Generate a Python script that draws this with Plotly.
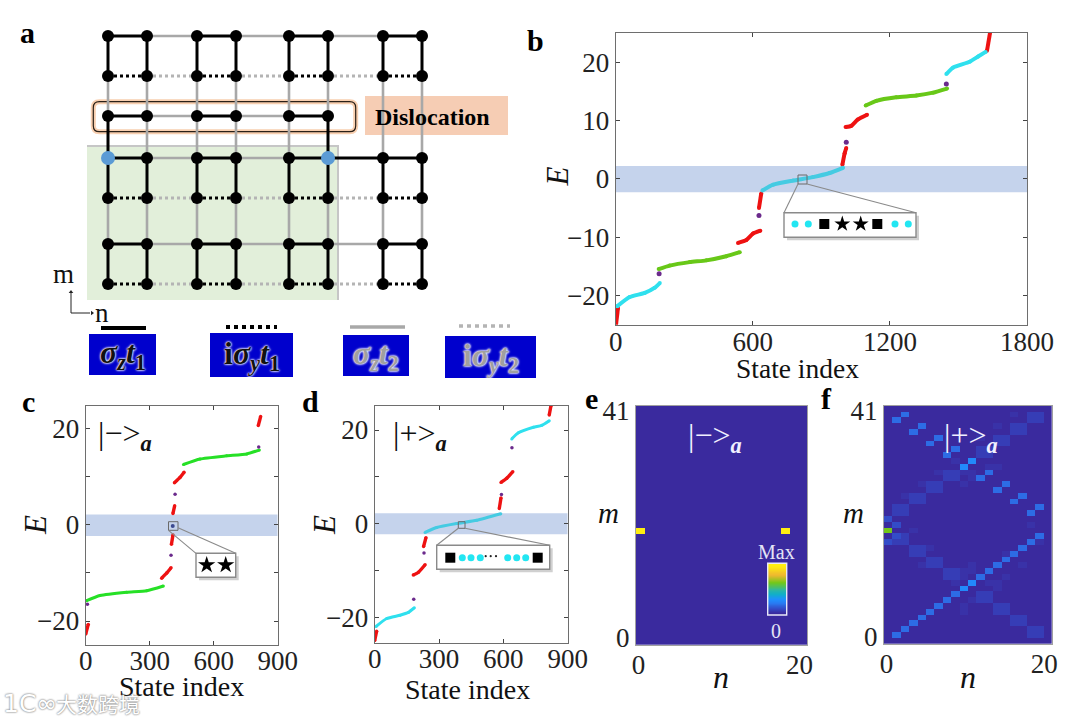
import plotly.graph_objects as go

W, H = 1080, 722
SERIF = "Liberation Serif"

# ---------- panel a lattice (index into columns / rows) ----------
lat_x = [108, 147, 197, 236, 289, 328, 383, 422]
lat_y = [36, 76, 116, 158, 198, 244, 284]
black_solid = [(0,0,1,0),(2,0,3,0),(4,0,5,0),(6,0,7,0),
               (0,2,1,2),(2,2,3,2),(4,2,5,2),
               (0,3,1,3),(2,3,3,3),(4,3,5,3),(5,3,6,3),(6,3,7,3),
               (0,5,1,5),(2,5,3,5),(4,5,5,5),(6,5,7,5),
               (0,0,0,1),(1,0,1,1),(2,0,2,1),(3,0,3,1),(4,0,4,1),(5,0,5,1),(6,0,6,1),(7,0,7,1),
               (0,2,0,3),(5,2,5,3),
               (0,3,0,4),(1,3,1,4),(2,3,2,4),(3,3,3,4),(4,3,4,4),(5,3,5,4),(6,3,6,4),(7,3,7,4),
               (0,5,0,6),(1,5,1,6),(2,5,2,6),(3,5,3,6),(4,5,4,6),(5,5,5,6),(6,5,6,6),(7,5,7,6)]
black_dotted = [(0,r,1,r) for r in (1,4,6)] + [(2,r,3,r) for r in (1,4,6)] + \
               [(4,r,5,r) for r in (1,4,6)] + [(6,r,7,r) for r in (1,4,6)]
gray_solid = [(1,0,2,0),(3,0,4,0),(5,0,6,0),(1,2,2,2),(3,2,4,2),(1,3,2,3),(3,3,4,3),
              (1,5,2,5),(3,5,4,5),(5,5,6,5),
              (0,1,0,2),(1,1,1,2),(2,1,2,2),(3,1,3,2),(4,1,4,2),(5,1,5,2),
              (6,1,6,3),(7,1,7,3),
              (1,2,1,3),(2,2,2,3),(3,2,3,3),(4,2,4,3),
              (0,4,0,5),(1,4,1,5),(2,4,2,5),(3,4,3,5),(4,4,4,5),(5,4,5,5),(6,4,6,5),(7,4,7,5)]
gray_dotted = [(1,r,2,r) for r in (1,4,6)] + [(3,r,4,r) for r in (1,4,6)] + [(5,r,6,r) for r in (1,4,6)]
node_rows = {0: [0,1,2,3,4,5,6,7], 1: [0,1,2,3,4,5,6,7], 2: [0,1,2,3,4,5],
             3: [1,2,3,4,6,7], 4: [0,1,2,3,4,5,6,7], 5: [0,1,2,3,4,5,6,7], 6: [0,1,2,3,4,5,6,7]}
blue_nodes = [(0,3),(5,3)]

key_bar_x = [[101,146],[226,277],[350,405],[459,510]]
key_bar_y = [328,327,327,326]
key_box_x = [[89,156],[210,293],[343,409],[445,536]]
key_box_y = [[334,375],[333,377],[335,376],[336,378]]
key_text = ["<b><i>σ<sub>z</sub>t</i><sub>1</sub></b>", "<b>i<i>σ<sub>y</sub>t</i><sub>1</sub></b>",
            "<b><i>σ<sub>z</sub>t</i><sub>2</sub></b>", "<b>i<i>σ<sub>y</sub>t</i><sub>2</sub></b>"]

# ---------- panel b ----------
b_red_x = [0,10,None,535,572,601,633,None,627,637,None,992,1002,1009,None,1006,1031,1060,1100,None,1625,1640]
b_red_e = [-25.5,-22.2,None,-11,-10.5,-9.4,-8.9,None,-5,-2.5,None,2.4,4.4,5.3,None,8.9,9.1,10.2,11,None,22,25.5]
b_cyan_x = [6,61,127,171,193,None,1447,1476,1549,1586,1619]
b_cyan_e = [-21.9,-20.3,-19.6,-18.7,-17.9,None,18,19.1,20.1,21,21.8]
b_mid_x = [642,689,776,863,936,995]
b_mid_e = [-2,-1,-0.3,0.3,1,1.9]
b_green_x = [188,236,324,397,484,543,None,1094,1141,1228,1316,1389,1450]
b_green_e = [-15.5,-14.9,-14.3,-14,-13.3,-12.6,None,12.6,13.4,14,14.3,14.8,15.5]
b_purple_x = [190,627,1009,1447]
b_purple_e = [-16.3,-6.3,6.3,16.3]

# ---------- panel c ----------
c_red_x = [0,12,None,356,380,400,None,402,409,None,409,417,None,416,442,461,None,809,820]
c_red_e = [-22.7,-20.7,None,-11.1,-10,-8.9,None,-4,-2.1,None,2.4,4,None,8.8,9.9,11,None,20.7,22.6]
c_green_x = [2,67,192,286,364,None,458,536,661,755,814]
c_green_e = [-15.8,-14.7,-14,-13.7,-12.7,None,12.6,13.75,14.4,14.8,15.6]
c_purple_x = [8,400,419,811]
c_purple_e = [-16.5,-6.3,6.4,16.25]
c_core_x = [408]
c_core_e = [-0.2]

# ---------- panel d ----------
d_red_x = [0,9,None,180,204,235,None,228,239,None,581,589,None,589,616,644,None,814,822]
d_red_e = [-25,-23,None,-11,-10.4,-8.8,None,-4.9,-3,None,3.2,5.5,None,8.8,9.7,11.1,None,23.2,25.2]
d_cyan_x = [6,56,118,157,185,None,639,670,740,779,814]
d_cyan_e = [-22,-20.3,-19.6,-19,-18,None,18.1,19.4,20.6,21,22]
d_mid_x = [235,289,382,476,588]
d_mid_e = [-1.9,-0.85,0,0.7,2.1]
d_purple_x = [182,230,591,640]
d_purple_e = [-16.2,-6.3,6.2,16.2]

band_e = [-2.3, 2.2]
index_ticks_b = [0,600,1200,1800]
index_ticks_cd = [0,300,600,900]
energy_ticks_b = [-20,-10,0,10,20]
energy_labels_b = ["\u221220","\u221210","0","10","20"]
energy_ticks_cd = [-20,-10,0,10,20]
energy_labels_cd = ["\u221220","","0","","20"]

# ---------- insets (drawn in page pixels) ----------
inset_b_box = [784,916,212.7,237.3]
inset_b_zoom = [798,807,175,184]
inset_b_circ_x = [795,808.3,895,908.3]
inset_b_sq_x = [824.3,877.3]
inset_b_star_x = [842.3,860.7]
inset_b_row = 224

inset_c_box = [196,235.7,553.3,577.3]
inset_c_zoom = [168.5,178,521.7,530.3]
inset_c_star_x = [206.7,225.7]
inset_c_row = 565

inset_d_box = [436.7,549.7,545.3,569.3]
inset_d_zoom = [458.3,465,521.7,528.3]
inset_d_sq_x = [450.3,537.7]
inset_d_circ_x = [462.3,471,480.3,507.7,516.7,525.7]
inset_d_dot_x = [485.7,490.7,496]
inset_d_row = 557.7

# ---------- panels e, f ----------
n_cols, n_rows = 20, 41
e_peak_cells = [(0,19),(17,19)]
f_bright_cells = [(i,i) for i in range(1,19)] + [(1,38),(2,39),(3,36),(4,37),(5,34),(6,35),(7,32),(8,33),
                  (11,28),(12,29),(13,26),(14,27),(15,24),(16,25),(17,22),(18,23)]
f_peak_cells = [(9,9),(10,10),(9,30),(10,31)]
f_green_cell = [(0,19)]
f_edge_cells = [(0,21),(1,20),(0,17),(1,18)]
f_block_origins = [(17,38),(15,36),(13,34),(11,32),(7,28),(5,26),(3,24),(1,22),
                   (1,17),(3,15),(5,13),(7,11),(11,7),(13,5),(15,3),(17,1)]
f_faint_cells = [(9,12),(10,12),(9,11),(10,13),(8,10),(12,10),(13,10),(9,6),(9,5),(10,7),(13,9),
                 (9,29),(10,29),(8,31),(12,30),(13,30),(9,27),(10,28),(4,13),(5,16),(3,19),(14,15),(17,20),
                 (2,25),(4,27),(6,29),(13,37),(15,39),(11,35),(18,17),(16,13),(14,11)]
cbar_levels = [[1.0],[0.9],[0.8],[0.7],[0.6],[0.5],[0.4],[0.3],[0.2],[0.1],[0.0]][::-1]

value_scale = [[0,"#3a2a9e"],[0.08,"#3448c4"],[0.2,"#2a78f0"],[0.3,"#1e90ff"],[0.4,"#10b0c8"],
               [0.5,"#30b8a0"],[0.65,"#72c81a"],[0.8,"#f0b830"],[1,"#ffee10"]]


def blank_grid():
    return [[0.0 for _ in range(n_cols)] for _ in range(n_rows)]

e_z = blank_grid()
for c, r in e_peak_cells:
    e_z[r][c] = 1.0

f_z = blank_grid()
for c, r in f_faint_cells:
    f_z[r][c] = 0.02
for c, r in f_block_origins:
    for dc in (0, 1):
        for dr in (0, 1):
            f_z[r+dr][c+dc] = 0.05
for c, r in f_bright_cells:
    f_z[r][c] = 0.17
for c, r in f_edge_cells:
    f_z[r][c] = 0.09
for c, r in f_peak_cells:
    f_z[r][c] = 0.27
for c, r in f_green_cell:
    f_z[r][c] = 0.65


def px_dom_x(a, b):
    return [a / W, b / W]


def px_dom_y(top, bot):
    return [1 - bot / H, 1 - top / H]


def bonds(lst):
    xs, ys = [], []
    for c0, r0, c1, r1 in lst:
        xs += [lat_x[c0], lat_x[c1], None]
        ys += [lat_y[r0], lat_y[r1], None]
    return xs, ys

fig = go.Figure()
OV = dict(xaxis="x7", yaxis="y7", hoverinfo="skip", showlegend=False)


def add_curve(xa, ya, xs, ys, color, width=4):
    fig.add_trace(go.Scatter(x=xs, y=ys, xaxis=xa, yaxis=ya, mode="lines+markers", showlegend=False,
                             line=dict(color=color, width=width, shape="spline", smoothing=0.5),
                             marker=dict(color=color, size=width)))


def add_dots(xa, ya, xs, ys, color="#6b2a8c", size=5):
    fig.add_trace(go.Scatter(x=xs, y=ys, xaxis=xa, yaxis=ya, mode="markers", showlegend=False,
                             marker=dict(color=color, size=size)))

RED, CYAN, MID, GREEN_B, GREEN_C = "#ee1212", "#2fe0ee", "#45cbe2", "#68c818", "#26e026"
add_curve("x","y",b_red_x,b_red_e,RED)
add_curve("x","y",b_cyan_x,b_cyan_e,CYAN)
add_curve("x","y",b_mid_x,b_mid_e,MID)
add_curve("x","y",b_green_x,b_green_e,GREEN_B)
add_dots("x","y",b_purple_x,b_purple_e)

add_curve("x2","y2",c_red_x,c_red_e,RED,3.4)
add_curve("x2","y2",c_green_x,c_green_e,GREEN_C,3.0)
add_dots("x2","y2",c_purple_x,c_purple_e,size=3.5)
add_dots("x2","y2",c_core_x,c_core_e,color="#3c4a90",size=4)

add_curve("x3","y3",d_red_x,d_red_e,RED,3.4)
add_curve("x3","y3",d_cyan_x,d_cyan_e,CYAN,3.0)
add_curve("x3","y3",d_mid_x,d_mid_e,MID,3.0)
add_dots("x3","y3",d_purple_x,d_purple_e,size=3.5)

for xa, ya, z in (("x4","y4",e_z),("x5","y5",f_z)):
    fig.add_trace(go.Heatmap(z=z, x0=0.5, dx=1, y0=0.5, dy=1, xaxis=xa, yaxis=ya, showscale=False,
                             colorscale=value_scale, zmin=0, zmax=1, zsmooth=False))
fig.add_trace(go.Heatmap(z=cbar_levels, xaxis="x6", yaxis="y6", showscale=False,
                         colorscale=value_scale, zmin=0, zmax=1, zsmooth="best"))

# panel a lattice
for lst, color, dash, width in ((gray_solid,"#a8a8a8","solid",2.6),(gray_dotted,"#b4b4b4","3px,3px",2.8),
                                (black_solid,"#000000","solid",3),(black_dotted,"#000000","3px,3px",3)):
    xs, ys = bonds(lst)
    fig.add_trace(go.Scatter(x=xs, y=ys, mode="lines", line=dict(color=color, dash=dash, width=width), **OV))
node_x, node_y = [], []
for r, cols in node_rows.items():
    for c in cols:
        if (c, r) not in blue_nodes:
            node_x.append(lat_x[c]); node_y.append(lat_y[r])
fig.add_trace(go.Scatter(x=node_x, y=node_y, mode="markers", marker=dict(color="#000", size=12), **OV))
fig.add_trace(go.Scatter(x=[lat_x[c] for c, r in blue_nodes], y=[lat_y[r] for c, r in blue_nodes], mode="markers",
                         marker=dict(color="#5b9bd5", size=14), **OV))

# m/n arrows
fig.add_trace(go.Scatter(x=[71,71,90], y=[293,313,313], mode="lines", line=dict(color="#222", width=1), **OV))
fig.add_trace(go.Scatter(x=[71,92], y=[292,313], mode="markers",
                         marker=dict(color="#222", size=4, symbol=["triangle-up","triangle-right"]), **OV))

# key bars
for (x0, x1), y, color, dash, w in zip(key_bar_x, key_bar_y, ["#000","#000","#a8a8a8","#b4b4b4"],
                                       ["solid","4px,4px","solid","4px,4px"], [4,4,3.6,3.6]):
    fig.add_trace(go.Scatter(x=[x0,x1], y=[y,y], mode="lines", line=dict(color=color, dash=dash, width=w), **OV))

# inset glyphs
fig.add_trace(go.Scatter(x=inset_b_circ_x, y=[inset_b_row]*4, mode="markers", marker=dict(color="#22e6f2", size=7), **OV))
fig.add_trace(go.Scatter(x=inset_b_sq_x, y=[inset_b_row]*2, mode="markers", marker=dict(color="#000", size=10, symbol="square"), **OV))
fig.add_trace(go.Scatter(x=inset_b_star_x, y=[inset_b_row]*2, mode="markers", marker=dict(color="#000", size=12, symbol="star", line=dict(width=0)), **OV))
fig.add_trace(go.Scatter(x=inset_c_star_x, y=[inset_c_row]*2, mode="markers", marker=dict(color="#000", size=13, symbol="star", line=dict(width=0)), **OV))
fig.add_trace(go.Scatter(x=inset_d_sq_x, y=[inset_d_row]*2, mode="markers", marker=dict(color="#000", size=10, symbol="square"), **OV))
fig.add_trace(go.Scatter(x=inset_d_circ_x, y=[inset_d_row]*6, mode="markers", marker=dict(color="#22e6f2", size=7), **OV))
fig.add_trace(go.Scatter(x=inset_d_dot_x, y=[inset_d_row-1.5]*3, mode="markers", marker=dict(color="#222", size=2.2), **OV))

shapes = []


def ov_rect(x0, x1, y0, y1, fill=None, line=None, lw=0, layer="below"):
    shapes.append(dict(type="rect", xref="x7", yref="y7", x0=x0, x1=x1, y0=y0, y1=y1, layer=layer,
                       fillcolor=fill or "rgba(0,0,0,0)", line=dict(color=line or "rgba(0,0,0,0)", width=lw)))


def ov_line(x0, y0, x1, y1, color="#8a8a8a", lw=1.1):
    shapes.append(dict(type="line", xref="x7", yref="y7", x0=x0, x1=x1, y0=y0, y1=y1, layer="below",
                       line=dict(color=color, width=lw)))


def rounded(x0, x1, y0, y1, r):
    return (f"M {x0+r} {y0} L {x1-r} {y0} Q {x1} {y0} {x1} {y0+r} L {x1} {y1-r} Q {x1} {y1} {x1-r} {y1} "
            f"L {x0+r} {y1} Q {x0} {y1} {x0} {y1-r} L {x0} {y0+r} Q {x0} {y0} {x0+r} {y0} Z")

# panel a backgrounds
ov_rect(87, 339, 145, 300, fill="#c6c6c6")
ov_rect(87, 337, 147, 300, fill="#e2efda")
ov_rect(365, 508, 96, 135, fill="#f6cdb4")
shapes.append(dict(type="path", xref="x7", yref="y7", layer="below", path=rounded(93.3,355.7,101.7,131.7,6),
                   line=dict(color="#f8cfb0", width=5)))
shapes.append(dict(type="path", xref="x7", yref="y7", layer="below", path=rounded(93.3,355.7,101.7,131.7,6),
                   line=dict(color="#2a2018", width=1.2)))
for (x0, x1), (y0, y1) in zip(key_box_x, key_box_y):
    ov_rect(x0, x1, y0, y1, fill="#0000cd")

# bands
for ax, xmax in (("", index_ticks_b[-1]), ("2", index_ticks_cd[-1]), ("3", index_ticks_cd[-1])):
    shapes.append(dict(type="rect", xref=f"x{ax}", yref=f"y{ax}", x0=0, x1=xmax, y0=band_e[0], y1=band_e[1],
                       layer="below", fillcolor="#c5d3ec", line=dict(width=0)))

# insets
for box in (inset_b_box, inset_c_box, inset_d_box):
    ov_rect(box[0]+3, box[1]+3, box[2]+3, box[3]+3, fill="#d0d0d0")
    ov_rect(box[0], box[1], box[2], box[3], fill="#ffffff", line="#8a8a8a", lw=1.4)
for z in (inset_b_zoom, inset_c_zoom, inset_d_zoom):
    ov_rect(z[0], z[1], z[2], z[3], line="#6a6a6a", lw=1)
ov_line(inset_b_zoom[0], inset_b_zoom[3], inset_b_box[0], inset_b_box[2])
ov_line(inset_b_zoom[1], inset_b_zoom[3], inset_b_box[1], inset_b_box[2])
ov_line(inset_c_zoom[0], inset_c_zoom[3], inset_c_box[0], inset_c_box[2])
ov_line(inset_c_zoom[1], inset_c_zoom[2]+6, inset_c_box[1], inset_c_box[2])
ov_line(inset_d_zoom[0], inset_d_zoom[3], inset_d_box[0], inset_d_box[2])
ov_line(inset_d_zoom[1], inset_d_zoom[3], inset_d_box[1], inset_d_box[2])
# colour key outline
shapes.append(dict(type="rect", xref="x6 domain", yref="y6 domain", x0=0, x1=1, y0=0, y1=1, layer="above",
                   line=dict(color="#e8e8f8", width=1.4)))

anns = []


def txt(x, y, s, size=24, color="#111", family=SERIF, angle=0, **kw):
    anns.append(dict(x=x, y=y, xref="x7", yref="y7", text=s, showarrow=False, textangle=angle,
                     xanchor="center", yanchor="middle",
                     font=dict(size=size, color=color, family=family, **kw)))

for s, x, y in (("a",27,32),("b",535,40),("c",28,401),("d",310,401),("e",591,398),("f",826,398)):
    txt(x, y, f"<b>{s}</b>", size=30, color="#000")
txt(432.5, 116.5, "<b>Dislocation</b>", size=24, color="#000")
txt(63, 274, "m", size=27)
txt(102, 313, "n", size=27)
for (bx, by), s, c in zip(zip(key_box_x, key_box_y), key_text, ["#111","#111","#a0a0a0","#a0a0a0"]):
    txt((bx[0]+bx[1])/2, (by[0]+by[1])/2, s, size=32, color=c,
        shadow="0 0 2px #fff, 0 0 2px #fff, 0 0 3px #fff")

for x, y, s in ((797.7,368,27.5),(181.7,686.7,28),(467,689,28)):
    txt(x, y, "State index", size=s)
for x, y in ((557.7,176.7),(35,525),(324,525)):
    txt(x, y, "<i>E</i>", size=31, angle=-90)
txt(608, 512.7, "<i>m</i>", size=29)
txt(853, 512.7, "<i>m</i>", size=29)
txt(721, 677, "<i>n</i>", size=32)
txt(968, 677, "<i>n</i>", size=32)
KET_A = "<sub><b><i>a</i></b></sub>"
txt(125, 435, "|\u2212>"+KET_A, size=32)
txt(420, 435, "|+>"+KET_A, size=32)
txt(715, 437, "|\u2212>"+KET_A, size=32, color="#f0f0ff")
txt(971, 437, "|+>"+KET_A, size=32, color="#f0f0ff")
txt(776.7, 551.7, "Max", size=20, color="#e4e4f6")
txt(776, 630.7, "0", size=20, color="#e4e4f6")
WM = "0 0 2px #8a8a8a, 0 0 2px #8a8a8a"
txt(30, 703, "1C\u221e", size=25, color="#ffffff", family="DejaVu Sans", shadow=WM)
txt(98, 703, "大数跨境", size=21, color="#ffffff", family="Noto Sans CJK SC", shadow=WM)


def axis(dom, rng, ticks, labels=None, anchor=None, ticklen=4, mirror="ticks", line="#6e6e6e", standoff=0):
    return dict(domain=dom, range=rng, tickmode="array", tickvals=ticks, automargin=False,
                ticktext=labels if labels is not None else [str(t) for t in ticks],
                ticks="inside" if ticklen else "", ticklen=ticklen, tickwidth=1.1, tickcolor="#444",
                showline=True, linecolor=line, linewidth=1.3, mirror=mirror, showgrid=False, zeroline=False,
                tickfont=dict(family=SERIF, size=27, color="#222"), anchor=anchor, layer="above traces",
                ticklabelstandoff=standoff)

layout = dict(
    template="none",
    width=W, height=H, margin=dict(l=0, r=0, t=0, b=0, pad=0), autosize=False,
    paper_bgcolor="#ffffff", plot_bgcolor="rgba(0,0,0,0)", showlegend=False, shapes=shapes, annotations=anns,
    xaxis=axis(px_dom_x(615.7,1027), [0,1800], index_ticks_b, anchor="y", standoff=-7),
    yaxis=axis(px_dom_y(32.7,324.7), [-25.05,25.1], energy_ticks_b, energy_labels_b, anchor="x"),
    xaxis2=axis(px_dom_x(85.7,277.7), [0,900], index_ticks_cd, anchor="y2", standoff=-9),
    yaxis2=axis(px_dom_y(405.7,645), [-25,24.85], energy_ticks_cd, energy_labels_cd, anchor="x2"),
    xaxis3=axis(px_dom_x(374.7,567.7), [0,900], index_ticks_cd, anchor="y3", standoff=-9),
    yaxis3=axis(px_dom_y(405.7,643.3), [-25.6,25.2], energy_ticks_cd, energy_labels_cd, anchor="x3"),
    xaxis4=axis(px_dom_x(636,807.3), [0,n_cols], [0.3,19.1], ["0","20"], anchor="y4", ticklen=0, line="#a0a0a0", standoff=-5),
    yaxis4=axis(px_dom_y(405.7,645), [0,n_rows], [40.2,1.2], ["41","0"], anchor="x4", ticklen=0, line="#a0a0a0"),
    xaxis5=axis(px_dom_x(884,1051.7), [0,n_cols], [0.3,19.1], ["0","20"], anchor="y5", ticklen=0, line="#a0a0a0", standoff=-5),
    yaxis5=axis(px_dom_y(405.7,644), [0,n_rows], [40.2,1.2], ["41","0"], anchor="x5", ticklen=0, line="#a0a0a0"),
    xaxis6=dict(domain=px_dom_x(767.7,786.7), visible=False, anchor="y6", automargin=False),
    yaxis6=dict(domain=px_dom_y(563.3,615), visible=False, anchor="x6", automargin=False),
    xaxis7=dict(domain=[0,1], range=[0,W], visible=False, anchor="y7", fixedrange=True, automargin=False),
    yaxis7=dict(domain=[0,1], range=[H,0], visible=False, anchor="x7", fixedrange=True, automargin=False),
)
fig.update_layout(**layout)

fig.write_html("out.html", config=dict(displayModeBar=False),
               post_script="document.body.style.margin='0';document.body.style.overflow='hidden';")
